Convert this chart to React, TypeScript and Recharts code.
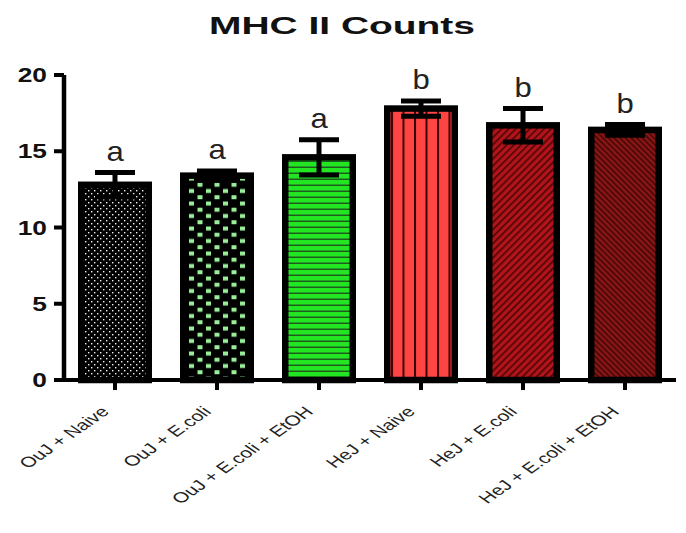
import React from "react";
import { BarChart, Bar, XAxis, YAxis, ErrorBar } from "recharts";

const categories = [
  "OuJ + Naive",
  "OuJ + E.coli",
  "OuJ + E.coli + EtOH",
  "HeJ + Naive",
  "HeJ + E.coli",
  "HeJ + E.coli + EtOH",
];
const means = [12.8, 13.4, 14.6, 17.8, 16.7, 16.4];
const sems = [0.8, 0.3, 1.15, 0.5, 1.1, 0.35];
const letters = ["a", "a", "a", "b", "b", "b"];
const yTicks = [0, 5, 10, 15, 20];

const data = categories.map((name, i) => ({
  name,
  mean: means[i],
  sem: sems[i],
  letter: letters[i],
}));

const FONT = "'Liberation Sans', Arial, sans-serif";

// one fill pattern per bar, GraphPad style
const renderPattern = (index: number, id: string) => {
  switch (index) {
    case 0:
      return (
        <pattern id={id} patternUnits="userSpaceOnUse" width={6} height={6}>
          <rect width={6} height={6} fill="#000" />
          <rect x={1} y={1} width={1.4} height={1.4} fill="#f0f0f0" />
          <rect x={4} y={4} width={1.4} height={1.4} fill="#f0f0f0" />
        </pattern>
      );
    case 1:
      return (
        <pattern id={id} patternUnits="userSpaceOnUse" width={17} height={12.5}>
          <rect width={17} height={12.5} fill="#000" />
          <rect x={2} y={1.5} width={5} height={4} fill="#9af09a" />
          <rect x={10.5} y={7.75} width={5} height={4} fill="#9af09a" />
        </pattern>
      );
    case 2:
      return (
        <pattern id={id} patternUnits="userSpaceOnUse" width={6} height={6}>
          <rect width={6} height={6} fill="#22e622" />
          <rect y={4.5} width={6} height={1.5} fill="#1f5a1f" />
        </pattern>
      );
    case 3:
      return (
        <pattern id={id} patternUnits="userSpaceOnUse" width={11.5} height={10}>
          <rect width={11.5} height={10} fill="#ff4444" />
          <rect x={0} width={2} height={10} fill="#3a0000" />
        </pattern>
      );
    case 4:
      return (
        <pattern
          id={id}
          patternUnits="userSpaceOnUse"
          width={5}
          height={5}
          patternTransform="rotate(45)"
        >
          <rect width={5} height={5} fill="#b21419" />
          <rect width={1.6} height={5} fill="#4a0507" />
        </pattern>
      );
    default:
      return (
        <pattern
          id={id}
          patternUnits="userSpaceOnUse"
          width={4}
          height={4}
          patternTransform="rotate(-45)"
        >
          <rect width={4} height={4} fill="#8c1515" />
          <rect width={1.4} height={4} fill="#3a0606" />
        </pattern>
      );
  }
};

const PatternBar = (props: any) => {
  const { x, y, width, height, index, payload } = props;
  const sw = 6.5;
  const id = `barPat${index}`;
  // top of the error whisker, in pixels, from the bar's own scale
  const capY = y - (payload.sem * height) / payload.mean;
  const cx = x + width / 2;
  return (
    <g>
      <defs>{renderPattern(index, id)}</defs>
      <rect
        x={x + sw / 2}
        y={y}
        width={width - sw}
        height={height}
        fill={`url(#${id})`}
        stroke="#000"
        strokeWidth={sw}
      />
      <text
        transform={`translate(${cx},${capY - 12}) scale(1.15,1)`}
        textAnchor="middle"
        fontFamily={FONT}
        fontSize={27}
        fill="#222"
      >
        {payload.letter}
      </text>
    </g>
  );
};

const XTick = (props: any) => {
  const { x, y, payload } = props;
  return (
    <text
      transform={`translate(${x - 10},${y + 17}) scale(1.45,1) rotate(-45)`}
      textAnchor="end"
      dy="0.35em"
      fontFamily={FONT}
      fontSize={14.5}
      fill="#222"
    >
      {payload.value}
    </text>
  );
};

const YTick = (props: any) => {
  const { y, payload } = props;
  return (
    <text
      transform={`translate(47,${y}) scale(1.35,1)`}
      textAnchor="end"
      dy="0.36em"
      fontFamily={FONT}
      fontWeight="bold"
      fontSize={19.5}
      fill="#111"
    >
      {payload.value}
    </text>
  );
};

export default function App() {
  return (
    <div
      style={{
        position: "absolute",
        left: 0,
        top: 0,
        width: 686,
        height: 533,
        background: "#fff",
      }}
    >
      <BarChart
        width={686}
        height={533}
        data={data}
        margin={{ top: 75, right: 10, left: 0, bottom: 93 }}
        barSize={74}
      >
        <text
          x={342}
          y={34}
          textAnchor="middle"
          textLength={266}
          lengthAdjust="spacingAndGlyphs"
          fontFamily={FONT}
          fontWeight="bold"
          fontSize={23}
          fill="#111"
        >
          MHC II Counts
        </text>
        <XAxis
          dataKey="name"
          interval={0}
          height={60}
          tickSize={10}
          axisLine={{ stroke: "#000", strokeWidth: 4 }}
          tickLine={{ stroke: "#000", strokeWidth: 4 }}
          tick={<XTick />}
        />
        <YAxis
          domain={[0, 20]}
          ticks={yTicks}
          width={64}
          tickSize={10}
          axisLine={{ stroke: "#000", strokeWidth: 4.5 }}
          tickLine={{ stroke: "#000", strokeWidth: 4 }}
          tick={<YTick />}
        />
        <Bar dataKey="mean" shape={<PatternBar />} isAnimationActive={false}>
          <ErrorBar
            dataKey="sem"
            width={20}
            stroke="#000"
            strokeWidth={5}
            isAnimationActive={false}
          />
        </Bar>
      </BarChart>
    </div>
  );
}
